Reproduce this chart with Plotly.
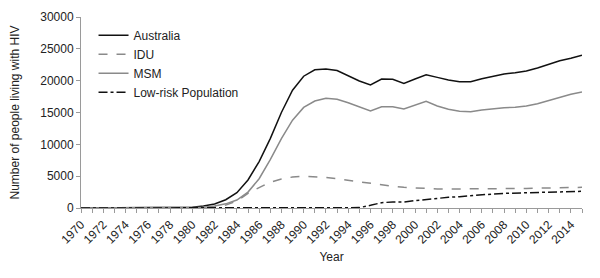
import plotly.graph_objects as go

years = list(range(1970, 2016))

australia = [0, 0, 0, 0, 0, 0, 0, 0, 0, 20,
             100, 310, 630, 1300, 2400, 4400, 7300, 10900, 15000, 18500,
             20700, 21700, 21850, 21600, 20750, 19950, 19320, 20260, 20210, 19580,
             20260, 20940, 20520, 20100, 19840, 19840, 20310, 20730, 21050, 21250,
             21520, 21990, 22560, 23140, 23510, 23980]
idu = [0, 0, 0, 0, 0, 0, 0, 0, 0, 5,
       10, 50, 150, 450, 1100, 2300, 3200, 4050, 4550, 4870,
       5000, 4950, 4800, 4600, 4350, 4080, 3820, 3610, 3400, 3240,
       3140, 3090, 3000, 2980, 2980, 2980, 2990, 3000, 3020, 3050,
       3080, 3110, 3150, 3180, 3220, 3240]
msm = [0, 0, 0, 0, 0, 0, 0, 0, 0, 10,
       30, 100, 300, 650, 1250, 2500, 4600, 7600, 10900, 13800,
       15800, 16800, 17220, 17070, 16540, 15910, 15230, 15910, 15910, 15550,
       16180, 16750, 16020, 15500, 15180, 15130, 15390, 15600, 15760, 15810,
       16020, 16390, 16910, 17380, 17860, 18220]
lowrisk = [0, 0, 0, 0, 0, 0, 0, 0, 0, 0,
           10, 20, 30, 40, 40, 50, 50, 50, 50, 50,
           50, 50, 50, 50, 50, 60, 420, 840, 940, 950,
           1150, 1360, 1520, 1680, 1780, 1940, 2040, 2200, 2300, 2350,
           2410, 2460, 2510, 2560, 2620, 2620]

y_ticks = [0, 5000, 10000, 15000, 20000, 25000, 30000]
tick_text = [str(y) if y % 2 == 0 else "" for y in years]

fig = go.Figure()
fig.add_trace(go.Scatter(x=years, y=australia, name="Australia", mode="lines",
                         line=dict(color="#111111", width=1.5)))
fig.add_trace(go.Scatter(x=years, y=idu, name="IDU", mode="lines",
                         line=dict(color="#8a8a8a", width=1.5, dash="dash")))
fig.add_trace(go.Scatter(x=years, y=msm, name="MSM", mode="lines",
                         line=dict(color="#8a8a8a", width=1.5)))
fig.add_trace(go.Scatter(x=years, y=lowrisk, name="Low-risk Population", mode="lines",
                         line=dict(color="#111111", width=1.5, dash="dashdot")))

font_family = "Liberation Sans, Arial, sans-serif"
fig.update_layout(
    width=592, height=270,
    margin=dict(l=73, r=18, t=9, b=70),
    paper_bgcolor="white", plot_bgcolor="white",
    font=dict(family=font_family, size=12, color="#222222"),
    showlegend=True,
    legend=dict(x=0.025, y=0.98, xanchor="left", yanchor="top",
                bgcolor="rgba(0,0,0,0)", font=dict(size=12, color="#222222"),
                tracegroupgap=0),
    xaxis=dict(
        range=[1970, 2015], automargin=False,
        tickmode="array", tickvals=years, ticktext=tick_text,
        tickangle=-45, ticks="outside", ticklen=4, tickcolor="#9a9a9a",
        showline=True, linecolor="#9a9a9a", linewidth=1,
        showgrid=False, zeroline=False,
        title=dict(text="Year", font=dict(size=12), standoff=6),
        tickfont=dict(size=12),
    ),
    yaxis=dict(
        range=[0, 30000], automargin=False,
        tickmode="array", tickvals=y_ticks, ticktext=[str(v) for v in y_ticks],
        ticks="outside", ticklen=4, tickcolor="#9a9a9a",
        showline=True, linecolor="#9a9a9a", linewidth=1,
        showgrid=False, zeroline=False,
        title=dict(text="Number of people living with HIV", font=dict(size=12), standoff=18),
        tickfont=dict(size=12),
    ),
)

fig.write_html("out.html")
